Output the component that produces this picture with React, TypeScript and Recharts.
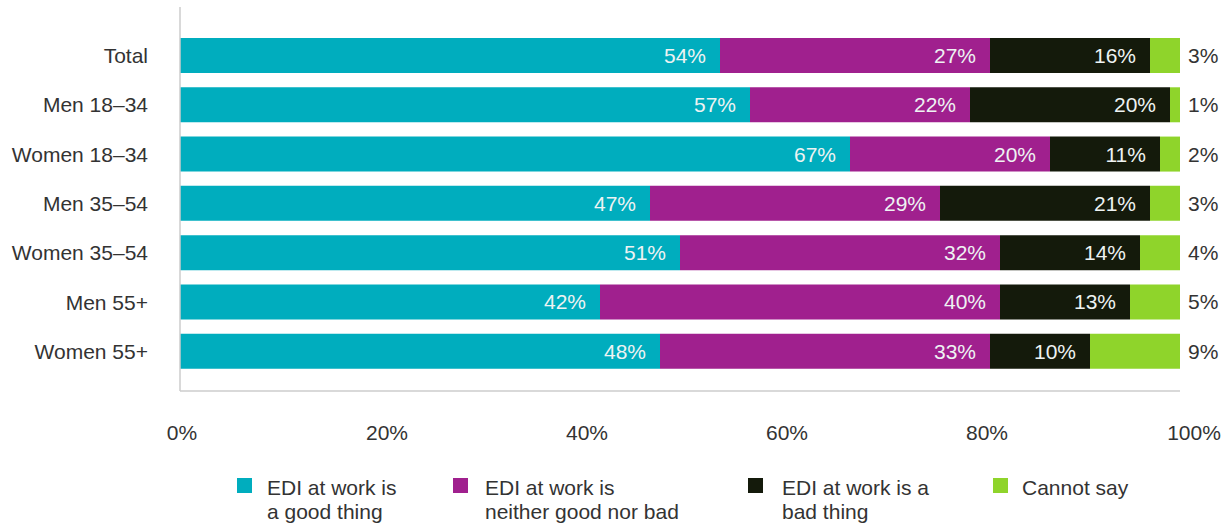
import React from 'react';
import { BarChart, Bar, XAxis, YAxis, LabelList } from 'recharts';

const categories = ['Total', 'Men 18–34', 'Women 18–34', 'Men 35–54', 'Women 35–54', 'Men 55+', 'Women 55+'];
const goodThing = [54, 57, 67, 47, 50, 42, 48];
const goodThingLabels = [54, 57, 67, 47, 51, 42, 48];
const neitherGoodNorBad = [27, 22, 20, 29, 32, 40, 33];
const badThing = [16, 20, 11, 21, 14, 13, 10];
const cannotSay = [3, 1, 2, 3, 4, 5, 9];
const xTicks = [0, 20, 40, 60, 80, 100];

const seriesNames = [
  ['EDI at work is', 'a good thing'],
  ['EDI at work is', 'neither good nor bad'],
  ['EDI at work is a', 'bad thing'],
  ['Cannot say'],
];
const colors = ['#00adbe', '#a0208e', '#141a0b', '#8fd42b'];

const data = categories.map((name, i) => ({
  name,
  good: goodThing[i],
  goodLabel: goodThingLabels[i],
  neither: neitherGoodNorBad[i],
  bad: badThing[i],
  cannot: cannotSay[i],
}));

const FONT = '"Liberation Sans", Arial, Helvetica, sans-serif';
const FS = 21;

const insideLabel = (props: any) => {
  const { x, y, width, height, value } = props;
  return (
    <text x={x + width - 14} y={y + height / 2} dy="0.36em" textAnchor="end" fill="#eef3f3" fontSize={FS} fontFamily={FONT}>
      {value}%
    </text>
  );
};

const outsideLabel = (props: any) => {
  const { x, y, width, height, value } = props;
  return (
    <text x={x + width + 8} y={y + height / 2} dy="0.36em" textAnchor="start" fill="#333" fontSize={FS} fontFamily={FONT}>
      {value}%
    </text>
  );
};

const XTick = (props: any) => {
  const { x, y, payload } = props;
  const v = payload.value;
  const dx = v === 0 ? 2 : v === 100 ? 14 : 7;
  return (
    <text x={x + dx} y={y} dy="0.71em" textAnchor="middle" fill="#333" fontSize={FS} fontFamily={FONT}>
      {v}%
    </text>
  );
};

const legendMarkerX = [237, 453, 748, 993];
const legendTextX = [267, 485, 782, 1022];

export default function App() {
  return (
    <div style={{ position: 'absolute', left: 0, top: 0, width: 1231, height: 524, background: '#fff', fontFamily: FONT }}>
      <BarChart
        width={1231}
        height={524}
        data={data}
        layout="vertical"
        margin={{ top: 7, right: 51, left: 0, bottom: 73 }}
      >
        <XAxis
          type="number"
          domain={[0, 100]}
          ticks={xTicks}
          axisLine={{ stroke: '#cccccc', strokeWidth: 1.5 }}
          tickLine={false}
          tickSize={0}
          tickMargin={34}
          height={60}
          tick={<XTick />}
          interval={0}
        />
        <YAxis
          type="category"
          dataKey="name"
          width={180}
          axisLine={{ stroke: '#cccccc', strokeWidth: 1.5 }}
          tickLine={false}
          tickSize={0}
          tickMargin={32}
          padding={{ top: 24, bottom: 15 }}
          interval={0}
          tick={{ fill: '#333', fontSize: FS, fontFamily: FONT }}
        />
        <Bar dataKey="good" stackId="a" fill={colors[0]} barSize={35} isAnimationActive={false}>
          <LabelList dataKey="goodLabel" content={insideLabel} />
        </Bar>
        <Bar dataKey="neither" stackId="a" fill={colors[1]} barSize={35} isAnimationActive={false}>
          <LabelList dataKey="neither" content={insideLabel} />
        </Bar>
        <Bar dataKey="bad" stackId="a" fill={colors[2]} barSize={35} isAnimationActive={false}>
          <LabelList dataKey="bad" content={insideLabel} />
        </Bar>
        <Bar dataKey="cannot" stackId="a" fill={colors[3]} barSize={35} isAnimationActive={false}>
          <LabelList dataKey="cannot" content={outsideLabel} />
        </Bar>
      </BarChart>
      {seriesNames.map((lines, i) => (
        <React.Fragment key={i}>
          <div
            style={{
              position: 'absolute',
              left: legendMarkerX[i],
              top: 478,
              width: 15,
              height: 15,
              background: colors[i],
            }}
          />
          <div
            style={{
              position: 'absolute',
              left: legendTextX[i],
              top: 476,
              fontSize: FS,
              lineHeight: '24px',
              color: '#333',
              whiteSpace: 'nowrap',
            }}
          >
            {lines.map((l, j) => (
              <div key={j}>{l}</div>
            ))}
          </div>
        </React.Fragment>
      ))}
    </div>
  );
}
